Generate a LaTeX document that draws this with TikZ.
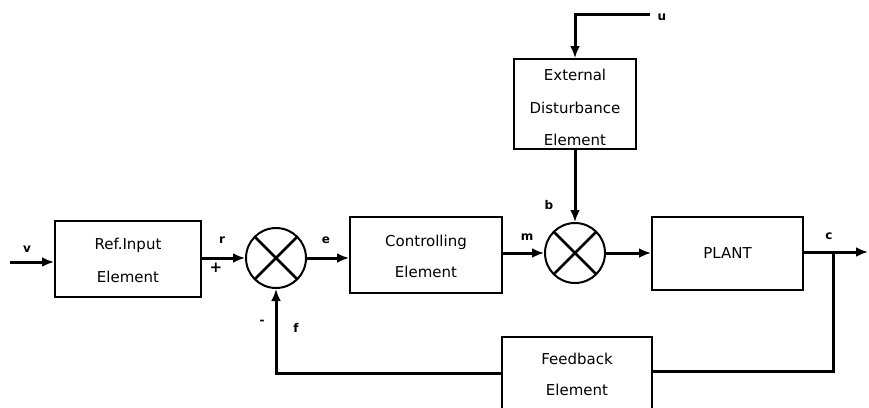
\documentclass[tikz,border=0pt]{standalone}
\usepackage{fontspec}
\setmainfont{DejaVu Sans}
\usetikzlibrary{arrows.meta,calc}
\begin{document}
\begin{tikzpicture}[x=1pt,y=-1pt,
  blk/.style={draw,line width=2pt,inner sep=0pt},
  sumc/.style={draw,circle,line width=2pt,minimum size=60pt,inner sep=0pt},
  wire/.style={line width=3pt},
  arr/.style={wire,-{Latex[length=12pt,width=10pt]}},
  lbl/.style={font=\fontsize{12}{13}\selectfont\bfseries,inner sep=0pt},
  txt/.style={font=\fontsize{15}{16}\selectfont,align=center}]
\useasboundingbox (0,0) rectangle (869,407);
% boxes
\node[blk,minimum width=146pt,minimum height=76pt] (ref) at (128,259) {};
\node[txt] at (128,245) {Ref.Input};
\node[txt] at (128,277) {Element};
\node[sumc] (s1) at (276,258) {};
\draw[line width=2.8pt] ($(s1)+(-21,-21)$) -- ($(s1)+(21,21)$);
\draw[line width=2.8pt] ($(s1)+(-21,21)$) -- ($(s1)+(21,-21)$);
\node[blk,minimum width=152pt,minimum height=76pt] (ctl) at (426,255) {};
\node[txt] at (426,242) {Controlling};
\node[txt] at (426,272) {Element};
\node[sumc] (s2) at (575,253) {};
\draw[line width=2.8pt] ($(s2)+(-21,-21)$) -- ($(s2)+(21,21)$);
\draw[line width=2.8pt] ($(s2)+(-21,21)$) -- ($(s2)+(21,-21)$);
\node[blk,minimum width=122pt,minimum height=90pt] (dist) at (575,104) {};
\node[txt] at (575,75) {External};
\node[txt] at (575,108) {Disturbance};
\node[txt] at (575,140) {Element};
\node[blk,minimum width=151pt,minimum height=73pt] (plant) at (727.5,253.5) {};
\node[txt] at (727.5,253) {PLANT};
\node[blk,minimum width=150pt,minimum height=72pt] (fb) at (577,373) {};
\node[txt] at (577,359) {Feedback};
\node[txt] at (577,390) {Element};
% coordinates
\coordinate (vin) at (10,262);
\coordinate (uin) at (650,14);
\coordinate (cout) at (868,252);
\coordinate (junc) at (833,252);
% connectors
\draw[arr] (vin) -- (ref.west |- vin);
\draw[arr] (ref.east |- s1) -- (s1.west);
\draw[arr] (s1.east) -- (ctl.west |- s1);
\draw[arr] (ctl.east |- s2) -- (s2.west);
\draw[arr] (s2.east) -- (plant.west |- s2);
\draw[arr] (plant.east |- cout) -- (cout);
\draw[arr] (uin) -- (dist.north |- uin) -- (dist.north);
\draw[arr] (dist.south) -- (s2.north);
\draw[wire] (junc) -- (junc |- 0,371) -- (fb.east |- 0,371);
\draw[arr] (fb.west |- 0,373) -- (s1 |- 0,373) -- (s1.south);
% labels
\node[lbl] at (27,249) {v};
\node[lbl] at (222,240) {r};
\node[lbl,font=\fontsize{15}{16}\selectfont\bfseries] at (216,268) {+};
\node[lbl] at (326,240) {e};
\node[lbl] at (527,237) {m};
\node[lbl] at (549,205) {b};
\node[lbl] at (662,17) {u};
\node[lbl] at (829,236) {c};
\node[lbl] at (262,322) {-};
\node[lbl] at (296,328) {f};
\end{tikzpicture}
\end{document}
